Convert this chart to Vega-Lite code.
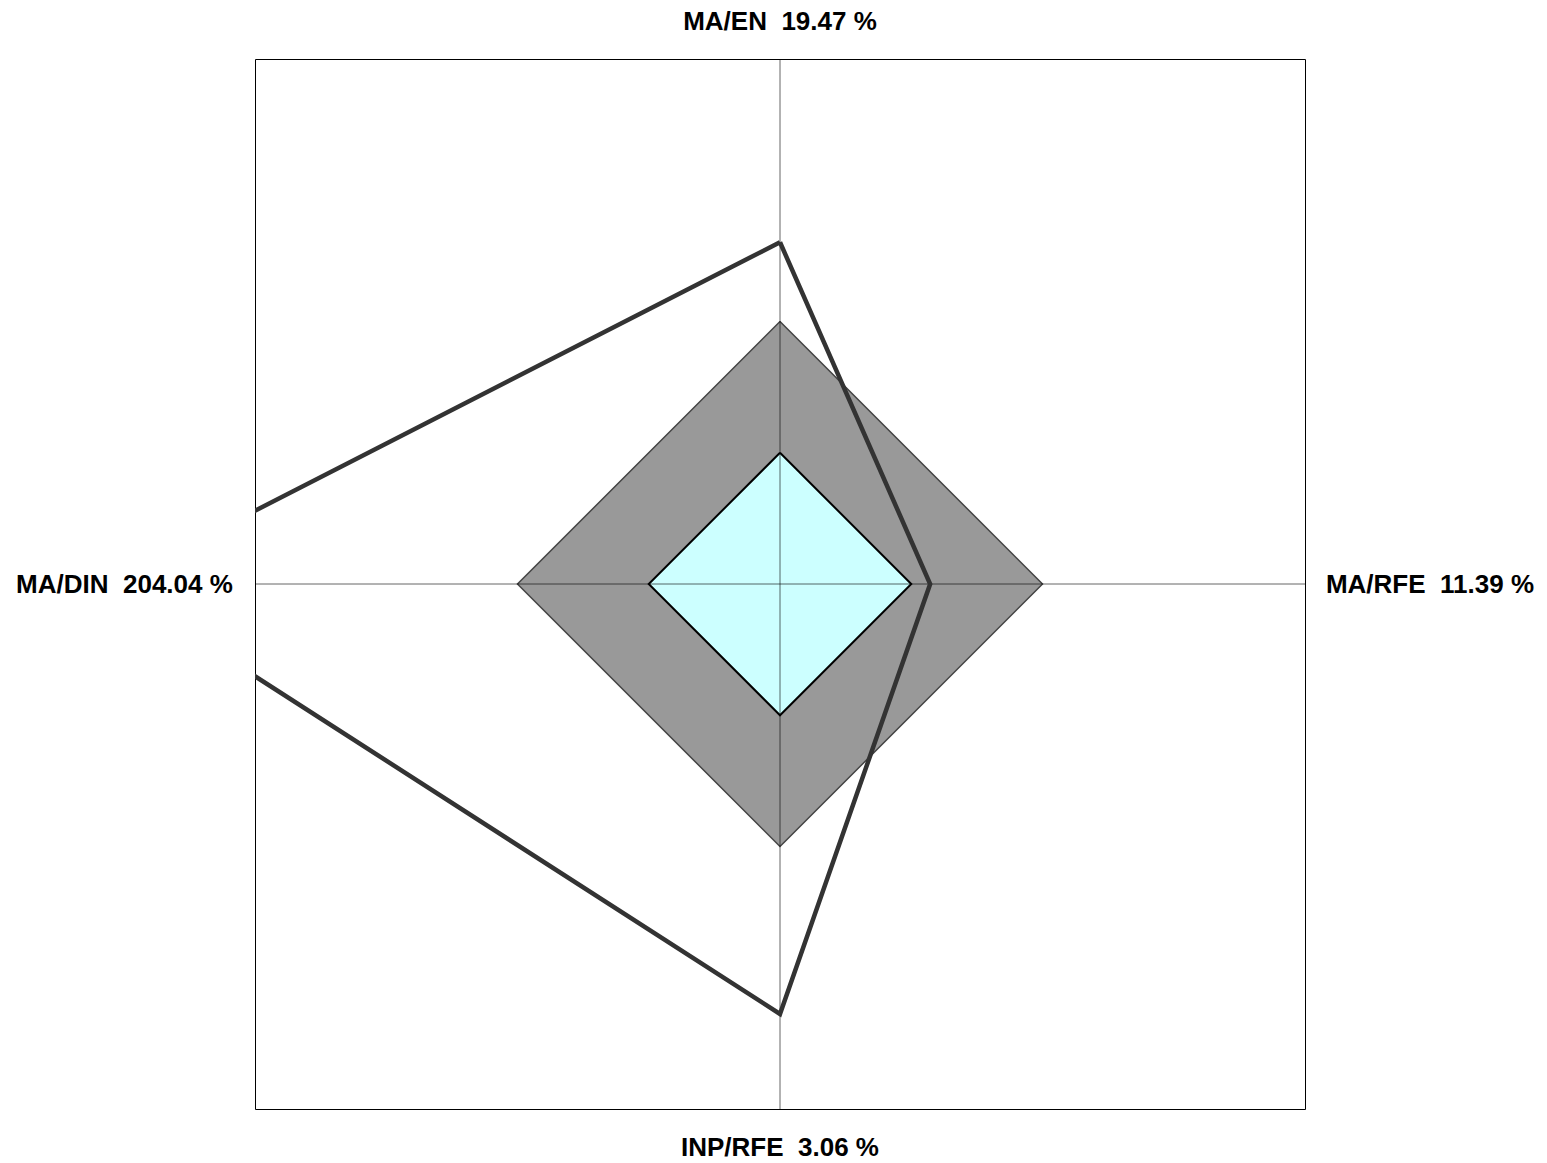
{
  "$schema": "https://vega.github.io/schema/vega-lite/v6.json",
  "width": 1050,
  "height": 1050,
  "autosize": {"type": "none"},
  "padding": {"left": 255, "top": 59, "right": 242, "bottom": 54},
  "background": "white",
  "config": {"view": {"stroke": "#000000", "strokeWidth": 1}},
  "datasets": {
    "polys": [
      {"shape": "band", "i": 0, "px": 0, "py": 0.5},
      {"shape": "band", "i": 1, "px": 0.5, "py": 0},
      {"shape": "band", "i": 2, "px": 0, "py": -0.5},
      {"shape": "band", "i": 3, "px": -0.5, "py": 0},
      {"shape": "band", "i": 4, "px": 0, "py": 0.5},
      {"shape": "inner", "i": 0, "px": 0, "py": 0.25},
      {"shape": "inner", "i": 1, "px": 0.25, "py": 0},
      {"shape": "inner", "i": 2, "px": 0, "py": -0.25},
      {"shape": "inner", "i": 3, "px": -0.25, "py": 0},
      {"shape": "inner", "i": 4, "px": 0, "py": 0.25},
      {"shape": "actual", "i": 0, "px": 0, "py": 0.651},
      {"shape": "actual", "i": 1, "px": 0.286, "py": 0},
      {"shape": "actual", "i": 2, "px": 0, "py": -0.819},
      {"shape": "actual", "i": 3, "px": -1.273, "py": 0},
      {"shape": "actual", "i": 4, "px": 0, "py": 0.651}
    ],
    "axes": [
      {"ax": 0, "ay": -1, "ax2": 0, "ay2": 1},
      {"ax": -1, "ay": 0, "ax2": 1, "ay2": 0}
    ],
    "labels": [
      {"label": "MA/EN \u00a019.47 %", "lx": 0, "ly": 1.07},
      {"label": "MA/RFE \u00a011.39 %", "lx": 1.238, "ly": -0.002},
      {"label": "INP/RFE \u00a03.06 %", "lx": 0, "ly": -1.075},
      {"label": "MA/DIN \u00a0204.04 %", "lx": -1.2486, "ly": -0.002}
    ]
  },
  "layer": [
    {
      "data": {"name": "polys"},
      "transform": [{"filter": "datum.shape === 'band'"}],
      "mark": {"type": "line", "fill": "#999999", "stroke": "#444444", "strokeWidth": 1.5, "strokeJoin": "miter"},
      "encoding": {
        "x": {"field": "px", "type": "quantitative", "scale": {"domain": [-1, 1], "nice": false, "zero": false}, "axis": null},
        "y": {"field": "py", "type": "quantitative", "scale": {"domain": [-1, 1], "nice": false, "zero": false}, "axis": null},
        "order": {"field": "i", "type": "quantitative"}
      }
    },
    {
      "data": {"name": "polys"},
      "transform": [{"filter": "datum.shape === 'inner'"}],
      "mark": {"type": "line", "fill": "#ccffff", "stroke": "#000000", "strokeWidth": 2, "strokeJoin": "miter"},
      "encoding": {
        "x": {"field": "px", "type": "quantitative"},
        "y": {"field": "py", "type": "quantitative"},
        "order": {"field": "i", "type": "quantitative"}
      }
    },
    {
      "data": {"name": "axes"},
      "mark": {"type": "rule", "stroke": "#000000", "strokeOpacity": 0.6, "strokeWidth": 1},
      "encoding": {
        "x": {"field": "ax", "type": "quantitative"},
        "y": {"field": "ay", "type": "quantitative"},
        "x2": {"field": "ax2"},
        "y2": {"field": "ay2"}
      }
    },
    {
      "data": {"name": "polys"},
      "transform": [{"filter": "datum.shape === 'actual'"}],
      "mark": {"type": "line", "stroke": "#333333", "strokeWidth": 4.5, "strokeJoin": "miter", "clip": true},
      "encoding": {
        "x": {"field": "px", "type": "quantitative"},
        "y": {"field": "py", "type": "quantitative"},
        "order": {"field": "i", "type": "quantitative"}
      }
    },
    {
      "data": {"name": "labels"},
      "mark": {"type": "text", "font": "Liberation Sans", "fontWeight": "bold", "fontSize": 26, "align": "center", "baseline": "middle", "color": "#000000"},
      "encoding": {
        "x": {"field": "lx", "type": "quantitative"},
        "y": {"field": "ly", "type": "quantitative"},
        "text": {"field": "label"}
      }
    }
  ]
}
